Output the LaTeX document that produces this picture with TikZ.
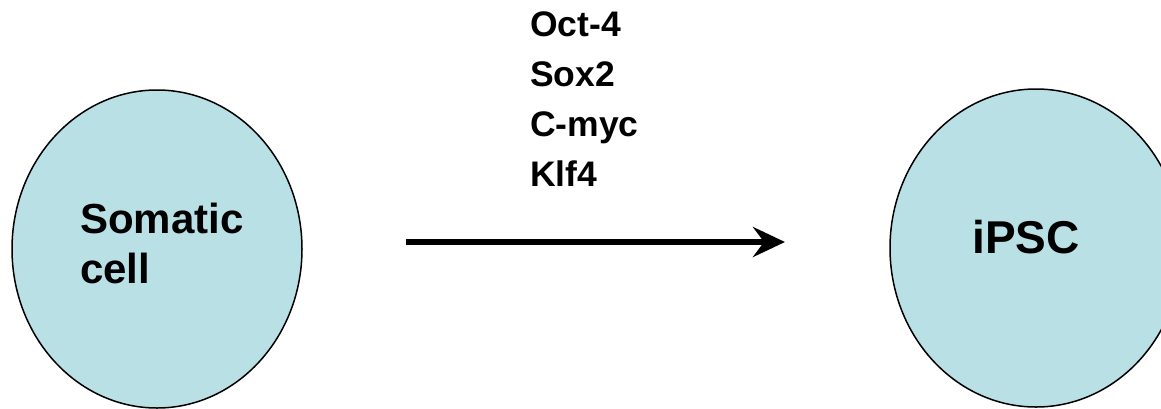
\documentclass[tikz,border=0pt]{standalone}
\usepackage{fontspec}
\setmainfont{Liberation Sans}
\usetikzlibrary{shapes.geometric,arrows.meta}
\definecolor{cellfill}{RGB}{185,224,228}
\tikzset{
  cellshape/.style={ellipse, draw=black, line width=1.5pt, fill=cellfill, inner sep=0pt, minimum width=290pt, minimum height=318pt},
  bigtext/.style={anchor=base west, inner sep=0pt, font=\fontsize{42}{50}\selectfont\bfseries},
  factor/.style={anchor=base west, inner sep=0pt, font=\fontsize{35.5}{44}\selectfont\bfseries},
}
\begin{document}
\begin{tikzpicture}[x=1pt,y=-1pt]
\useasboundingbox (0,0) rectangle (1161,408);
\clip (0,0) rectangle (1161,408);
\node[cellshape] (soma) at (157,249) {};
\node[cellshape, minimum width=292pt] (ipsc) at (1036,248) {};
\node[bigtext] (somaT) at (80,233) {Somatic};
\node[bigtext] (cellT) at (80,283) {cell};
\node[bigtext, font=\fontsize{46}{54}\selectfont\bfseries] (ipscT) at (972,253) {iPSC};
\node[factor] (f1) at (530,36) {Oct-4};
\node[factor] (f2) at (530,86) {Sox2};
\node[factor] (f3) at (530,136) {C-myc};
\node[factor] (f4) at (530,186) {Klf4};
\coordinate (a1) at (406,242);
\coordinate (a2) at (785,242);
\draw[line width=5.5pt, -{Stealth[length=32pt, width=30pt, inset=11pt]}] (a1) -- (a2);
\end{tikzpicture}
\end{document}
